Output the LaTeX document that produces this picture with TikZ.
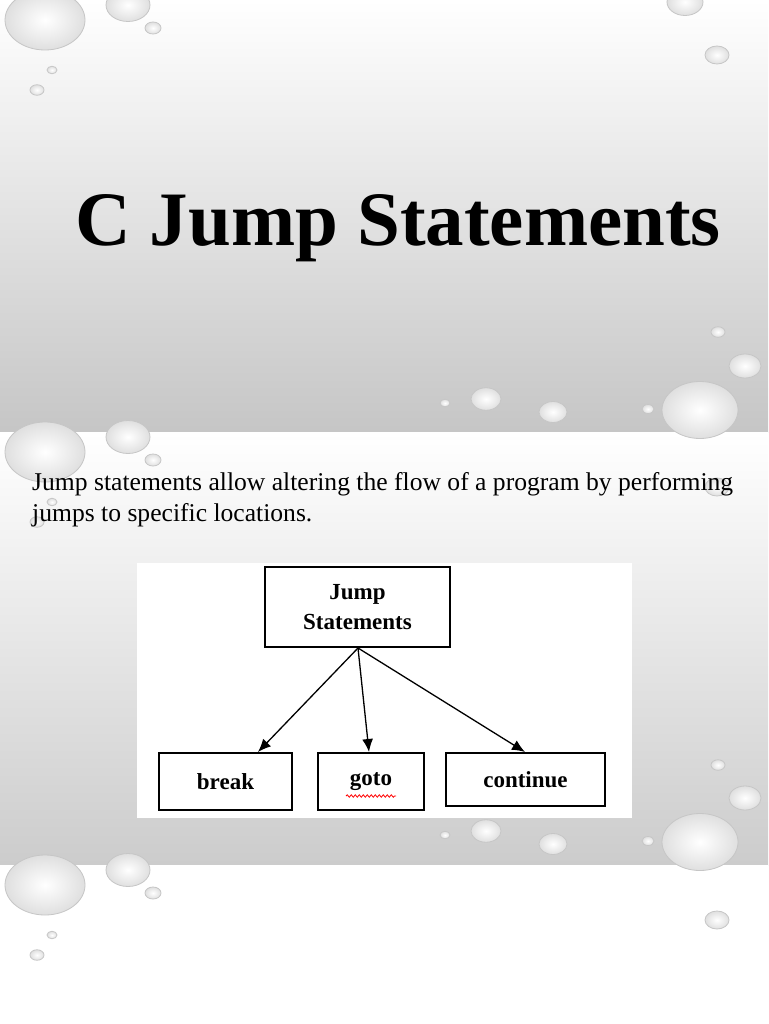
\documentclass[tikz,border=0pt]{standalone}
\usepackage{fontspec}
\setmainfont{Liberation Serif}
\usetikzlibrary{decorations.pathmorphing,arrows.meta}
\tikzset{
 box/.style={draw,line width=1.5pt,fill=white,font=\bfseries\fontsize{23}{30}\selectfont,align=center,inner sep=0pt},
 arr/.style={-{Latex[length=13pt,width=11pt]},line width=1.3pt},
 drop/.style={draw=gray!45,line width=0.8pt,inner color=white,outer color=gray!25}
}
\begin{document}
\begin{tikzpicture}[x=1pt,y=-1pt]
\useasboundingbox (0,0) rectangle (768,1024);
\shade[top color=white,bottom color=gray!45] (0,0) rectangle (768,432);
\shade[top color=white,bottom color=gray!40] (0,432) rectangle (768,865);
\fill[white] (0,865) rectangle (768,1024);
\foreach \x/\y/\r in {45/20/40,128/5/22,153/28/8,52/70/5,37/90/7,717/55/12,685/2/18,718/332/7,745/366/16,700/410/38,648/409/6,553/412/14,486/399/15,445/403/5,
 45/452/40,128/437/22,153/460/8,52/502/5,37/522/7,717/487/12,718/765/7,745/798/16,700/842/38,648/841/6,553/844/14,486/831/15,445/835/5,
 45/885/40,128/870/22,153/893/8,52/935/5,37/955/7,717/920/12}
  \shade[drop] (\x,\y) circle[x radius=\r pt,y radius=0.75*\r pt];
\node[font=\bfseries\fontsize{77}{85}\selectfont,anchor=center] (title) at (398,228) {C Jump Statements};
\node[anchor=north west,align=left,font=\fontsize{25.6}{31}\selectfont,inner sep=0pt] (body) at (32,472)
 {Jump statements allow altering the flow of a program by performing\\jumps to specific locations.};
\fill[white] (137,563) rectangle (632,818);
\node[box,minimum width=185pt,minimum height=80pt] (js) at (357.5,607) {Jump\\Statements};
\node[box,minimum width=133pt,minimum height=57pt] (br) at (225.5,781.5) {break};
\node[box,minimum width=106pt,minimum height=57pt] (gt) at (371,781.5) {goto};
\node[box,minimum width=159pt,minimum height=53pt] (ct) at (525.5,779.5) {continue};
\coordinate (o) at (358,648);
\draw[arr] (o) -- (258,752);
\draw[arr] (o) -- (369,752);
\draw[arr] (o) -- (525,752);
\draw[red,line width=0.8pt,decorate,decoration={snake,amplitude=1.2pt,segment length=4pt}] (346,796) -- (396,796);
\end{tikzpicture}
\end{document}
